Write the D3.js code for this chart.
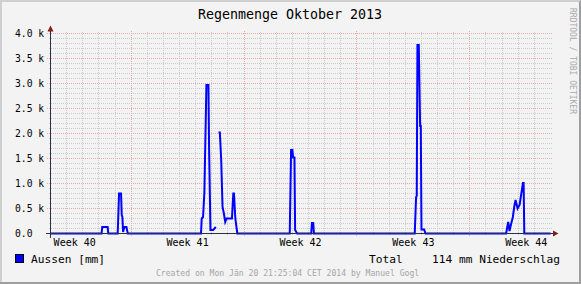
<!DOCTYPE html>
<html>
<head>
<meta charset="utf-8">
<script src="https://cdn.jsdelivr.net/npm/d3@7"></script>
<style>
  body { margin: 0; background: #f3f3f3; }
  svg { display: block; }
  text { font-family: "DejaVu Sans Mono", monospace; }
</style>
</head>
<body>
<script>
// hours since 2013-10-01 00:00 and rain value (null = unknown)
const hours = [0, 76, 77, 85, 86, 100, 102, 105, 106, 107, 108, 110, 113, 115,
  224, 225, 227, 229, 232, 235, 236, 238, 242, 246, 247, 249,
  250, 252, 254, 256, 258, 260, 262, 270, 272, 273, 275, 278,
  356, 358, 360, 361, 363, 364, 367, 388, 389, 391, 392,
  542, 544, 545, 546, 548, 550, 551, 552, 556, 558,
  678, 681, 683, 685, 688, 690, 692, 695, 698, 703, 704, 705, 744];
const rain = [0, 0, 130, 130, 0, 0, 800, 800, 370, 330, 30, 130, 130, 0,
  0, 300, 330, 830, 2970, 2970, 1670, 70, 70, 130, null, null,
  2020, 2020, 1470, 530, 400, 230, 300, 300, 800, 800, 300, 0,
  0, 1670, 1670, 1520, 1520, 70, 0, 0, 210, 210, 0,
  0, 730, 750, 3770, 3770, 2150, 2150, 80, 80, 0,
  0, 230, 50, 170, 330, 530, 670, 500, 570, 1010, 1010, 0, 0];

const yTicks = [0, 500, 1000, 1500, 2000, 2500, 3000, 3500, 4000];
const yLabels = ["0.0", "0.5 k", "1.0 k", "1.5 k", "2.0 k", "2.5 k", "3.0 k", "3.5 k", "4.0 k"];
const weekLabels = ["Week 40", "Week 41", "Week 42", "Week 43", "Week 44"];

const W = 581, H = 284;
const start = new Date(Date.UTC(2013, 9, 1)), end = new Date(Date.UTC(2013, 10, 1));

const x = d3.scaleUtc().domain([start, end]).range([50.5, 550.5]);
const y = d3.scaleLinear().domain([0, 4000]).range([233.5, 33.5]);
const toDate = h => new Date(start.getTime() + h * 3600e3);

const svg = d3.select("body").append("svg").attr("width", W).attr("height", H);

// background + shaded border
svg.append("rect").attr("width", W).attr("height", H).attr("fill", "#f3f3f3");
svg.append("path").attr("fill", "#cfcfcf")
  .attr("d", `M0,0H${W}V2H2V${H}H0Z`);
svg.append("path").attr("fill", "#9e9e9e")
  .attr("d", `M${W},0V${H}H0V${H - 2}H${W - 2}V2Z`);

const grid = svg.append("g").attr("shape-rendering", "crispEdges");

// minor grid
d3.range(100, 4000, 100).filter(v => v % 500).forEach(v => {
  grid.append("line").attr("x1", 49).attr("x2", 552).attr("y1", y(v)).attr("y2", y(v))
    .attr("stroke", "#cbcbcb").attr("stroke-dasharray", "1,1");
});
d3.utcDay.range(d3.utcDay.offset(start, 1), end).filter(d => d.getUTCDay() !== 0).forEach(d => {
  grid.append("line").attr("x1", x(d)).attr("x2", x(d)).attr("y1", 32).attr("y2", 235)
    .attr("stroke", "#cbcbcb").attr("stroke-dasharray", "1,1");
});
// major grid
yTicks.slice(1).forEach(v => {
  grid.append("line").attr("x1", 47).attr("x2", 553).attr("y1", y(v)).attr("y2", y(v))
    .attr("stroke", "#e2aaaa").attr("stroke-dasharray", "1,1");
});
d3.utcSunday.range(start, end).forEach(d => {
  grid.append("line").attr("x1", x(d)).attr("x2", x(d)).attr("y1", 31).attr("y2", 237)
    .attr("stroke", "#e2aaaa").attr("stroke-dasharray", "1,1");
});

// rain line
const pts = hours.map((h, i) => [toDate(h), rain[i]]);
const line = d3.line().defined(d => d[1] !== null).x(d => x(d[0])).y(d => y(d[1]));
svg.append("path").datum(pts).attr("d", line)
  .attr("fill", "none").attr("stroke", "#0000ff").attr("stroke-width", 2)
  .attr("stroke-linejoin", "miter");

// axes
const ax = svg.append("g").attr("shape-rendering", "crispEdges");
ax.append("line").attr("x1", 46).attr("x2", 554).attr("y1", 233.5).attr("y2", 233.5).attr("stroke", "#26304a");
ax.append("line").attr("x1", 50.5).attr("x2", 50.5).attr("y1", 238).attr("y2", 30).attr("stroke", "#26304a");
svg.append("path").attr("fill", "#7f1f1f").attr("d", "M553,230.5L558.5,233.5L553,236.5Z");
svg.append("path").attr("fill", "#7f1f1f").attr("d", "M47.5,31.5L50.5,25.5L53.5,31.5Z");

// y labels
svg.append("g").selectAll("text").data(yTicks).join("text")
  .attr("x", 15).attr("y", v => y(v) + 3.5)
  .attr("font-size", "9.7px").attr("fill", "#000")
  .text((v, i) => yLabels[i]);

// week labels
const weeks = d3.utcSunday.range(d3.utcSunday.floor(start), end);
svg.append("g").selectAll("text").data(weeks).join("text")
  .attr("x", d => x(d3.utcHour.offset(d, 84)))
  .attr("y", 245.5).attr("text-anchor", "middle")
  .attr("font-size", "10px").attr("fill", "#000")
  .text((d, i) => weekLabels[i]);

// title
svg.append("text").attr("x", 290).attr("y", 19).attr("text-anchor", "middle")
  .attr("font-size", "13.3px").text("Regenmenge Oktober 2013");

// legend
svg.append("rect").attr("x", 15.5).attr("y", 254.5).attr("width", 8).attr("height", 8)
  .attr("fill", "#0000ff").attr("stroke", "#000").attr("stroke-width", 1);
svg.append("text").attr("x", 31).attr("y", 263).attr("font-size", "11.2px").text("Aussen [mm]");
svg.append("text").attr("x", 369).attr("y", 263).attr("font-size", "11.2px").text("Total");
svg.append("text").attr("x", 432).attr("y", 263).attr("font-size", "11.2px").text("114 mm Niederschlag");

// footer + watermark
svg.append("text").attr("x", 156).attr("y", 276).attr("font-size", "8.1px").attr("fill", "#a5a5a5")
  .text("Created on Mon Jän 20 21:25:04 CET 2014 by Manuel Gogl");
svg.append("text").attr("transform", "translate(570,8) rotate(90)")
  .attr("font-size", "8px").attr("fill", "#aaaaaa")
  .text("RRDTOOL / TOBI OETIKER");
</script>
</body>
</html>
